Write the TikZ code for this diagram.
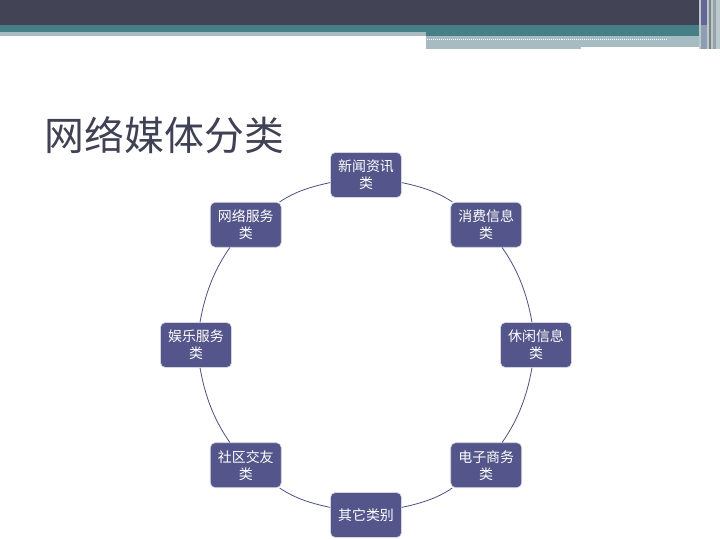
\documentclass[tikz,border=0pt]{standalone}
\usepackage{fontspec}
\setmainfont{Noto Sans CJK SC}
\definecolor{banner}{HTML}{424456}
\definecolor{bannerteal}{HTML}{467F86}
\definecolor{bannerlight}{HTML}{A7BCC2}
\definecolor{boxfill}{HTML}{54558A}
\definecolor{ringline}{HTML}{4A5080}
\definecolor{titlegray}{HTML}{3F4154}
\begin{document}
\begin{tikzpicture}[x=1bp,y=1bp]
\tikzstyle{box} = [draw=white!75!boxfill, line width=0.6, fill=boxfill, rounded corners=5,
                   minimum width=71bp, minimum height=45bp, inner sep=2, text=white,
                   align=center, font=\fontsize{14}{17}\selectfont]
\tikzstyle{ring} = [draw=ringline, line width=0.8, looseness=0.9]
\tikzstyle{invisible} = [outer sep=0,inner sep=0,minimum size=0]
\useasboundingbox (-366,-195) rectangle (354,345);
% banner
\fill [banner] (-366,345) rectangle (333,320);
\fill [bannerteal] (-366,320) rectangle (333,313);
\fill [bannerteal] (60,313) rectangle (333,309);
\fill [bannerlight] (-366,313) rectangle (60,309);
\fill [bannerlight] (60,309) rectangle (333,296);
\draw [white, line width=1, densely dotted] (61,305) -- (301,305);
\fill [white] (215,298) rectangle (333,296);
\fill [bannerlight!80!white] (333,345) rectangle (354,296);
\fill [boxfill!90!white] (335,345) rectangle (341,320);
\fill [bannerlight!70!boxfill] (335,320) rectangle (341,296);
\fill [gray] (343,345) rectangle (345,296);
\fill [bannerlight!60!gray] (347,345) rectangle (350,296);
% title
\node [invisible, anchor=west, text=titlegray, font=\fontsize{40}{42}\selectfont] (t) at (-321,210) {网络媒体分类};
% categories
\node [box] (v1) at (90:170) {新闻资讯\\类};
\node [box] (v2) at (45:170) {消费信息\\类};
\node [box] (v3) at (0:170) {休闲信息\\类};
\node [box] (v4) at (-45:170) {电子商务\\类};
\node [box] (v5) at (-90:170) {其它类别};
\node [box] (v6) at (-135:170) {社区交友\\类};
\node [box] (v7) at (180:170) {娱乐服务\\类};
\node [box] (v8) at (135:170) {网络服务\\类};
\draw [ring] (v1) to [out=-12, in=146] (v2);
\draw [ring] (v2) to [out=-55, in=100] (v3);
\draw [ring] (v3) to [out=-100, in=55] (v4);
\draw [ring] (v4) to [out=-146, in=12] (v5);
\draw [ring] (v5) to [out=168, in=-34] (v6);
\draw [ring] (v6) to [out=125, in=-80] (v7);
\draw [ring] (v7) to [out=80, in=-125] (v8);
\draw [ring] (v8) to [out=34, in=-168] (v1);
\end{tikzpicture}
\end{document}
